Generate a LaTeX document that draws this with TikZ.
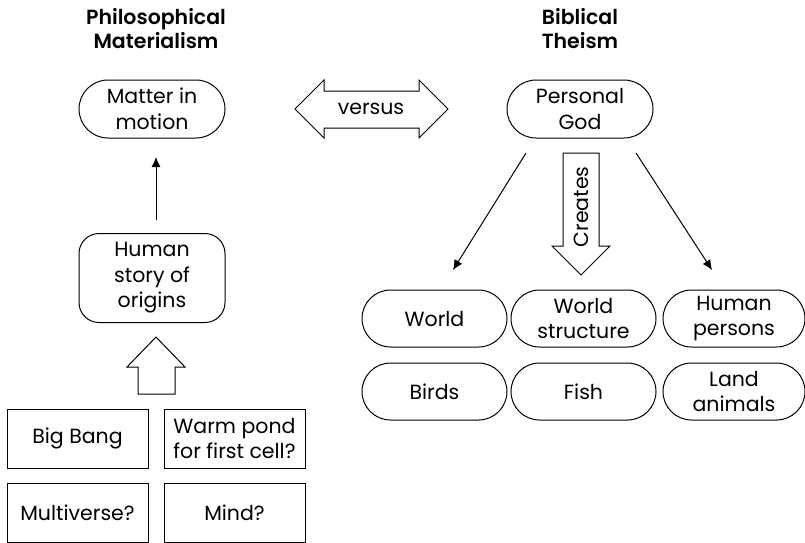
\documentclass[tikz,border=0pt]{standalone}
\usepackage{fontspec}
\setmainfont{Poppins}[BoldFont={Poppins SemiBold}]
\usetikzlibrary{shapes.misc,arrows.meta}
\begin{document}
\begin{tikzpicture}[x=1pt,y=-1pt,
  every node/.style={font=\fontsize{20.5}{25.5}\selectfont, align=center, inner sep=0pt},
  head/.style={font=\fontsize{20.5}{24}\selectfont\bfseries},
  pill/.style={draw, line width=1pt, rounded rectangle, minimum width=146pt, minimum height=58pt},
  rbox/.style={draw, line width=1pt, rounded corners=20pt, minimum width=146pt, minimum height=89pt},
  sbox/.style={draw, line width=1pt, minimum width=141pt, minimum height=59pt},
  blk/.style={draw, line width=1pt, fill=white},
  arr/.style={line width=1pt, -{Latex[length=10pt,width=9pt]}}
]
\useasboundingbox (0,0) rectangle (805,542);
\node[head] (hl) at (156,29) {Philosophical\\Materialism};
\node[head] (hr) at (580,29) {Biblical\\Theism};

\node[pill] (matter) at (152,109) {Matter in\\motion};
\node[pill] (god) at (580,109) {Personal\\God};

% versus double arrow
\draw[blk] (295,109) -- (324,80) -- (324,91) -- (419,91) -- (419,80) -- (448,109)
  -- (419,138) -- (419,128) -- (324,128) -- (324,138) -- cycle;
\node (versus) at (371,109) {versus};

\node[rbox] (story) at (152,278) {Human\\story of\\origins};
\coordinate (sa) at (156,220);
\coordinate (ma) at (156,157);
\draw[arr] (sa) -- (ma);

% up block arrow
\draw[blk] (156,337) -- (185,367) -- (175,367) -- (175,394) -- (138,394) -- (138,367) -- (127,367) -- cycle;

\node[sbox] (bang) at (77.5,438.5) {Big Bang};
\node[sbox] (pond) at (234.5,438.5) {Warm pond\\for first cell?};
\node[sbox] (multi) at (77.5,512.5) {Multiverse?};
\node[sbox] (mind) at (234.5,512.5) {Mind?};

% creates arrow
\draw[blk] (563,153) -- (599,153) -- (599,246) -- (610,246) -- (581,275) -- (552,246) -- (563,246) -- cycle;
\node[rotate=90] (creates) at (581,207) {Creates};

\coordinate (gl) at (526,153);
\coordinate (wl) at (453,270);
\coordinate (gr) at (636,153);
\coordinate (wr) at (712,270);
\draw[arr] (gl) -- (wl);
\draw[arr] (gr) -- (wr);

\node[pill, minimum width=145pt, minimum height=57pt] (world) at (434.5,318.5) {World};
\node[pill, minimum width=145pt, minimum height=57pt] (struct) at (583.5,318.5) {World\\structure};
\node[pill, minimum width=142pt, minimum height=57pt] (human) at (734,318.5) {Human\\persons};
\node[pill, minimum width=145pt, minimum height=57pt] (birds) at (434.5,391.5) {Birds};
\node[pill, minimum width=145pt, minimum height=57pt] (fish) at (583.5,391.5) {Fish};
\node[pill, minimum width=142pt, minimum height=57pt] (land) at (734,391.5) {Land\\animals};
\end{tikzpicture}
\end{document}
